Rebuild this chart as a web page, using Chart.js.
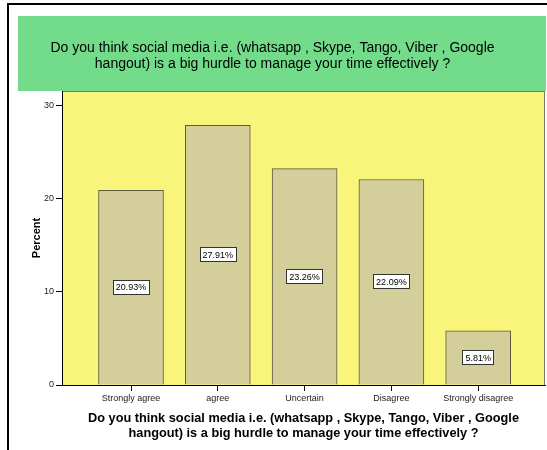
<!DOCTYPE html>
<html>
<head>
<meta charset="utf-8">
<script src="https://cdn.jsdelivr.net/npm/chart.js@4/dist/chart.umd.min.js"></script>
<style>
html,body{margin:0;padding:0;background:#fff;}
#wrap{width:547px;height:450px;}
</style>
</head>
<body>
<div id="wrap"><canvas id="c" width="547" height="450"></canvas></div>
<script>
const categories = ["Strongly agree", "agree", "Uncertain", "Disagree", "Strongly disagree"];
const percents = [20.93, 27.91, 23.26, 22.09, 5.81];
const yTicks = [0, 10, 20, 30];
const titleLines = ["Do you think social media i.e. (whatsapp , Skype, Tango, Viber , Google", "hangout) is a big hurdle to manage your time effectively ?"];

const FONT = "Arial, 'Liberation Sans', sans-serif";

const decor = {
  id: 'decor',
  beforeDraw(chart) {
    const ctx = chart.ctx;
    const a = chart.chartArea;
    ctx.save();
    ctx.fillStyle = '#fff';
    ctx.fillRect(0, 0, chart.width, chart.height);
    // outer frame
    ctx.fillStyle = '#000';
    ctx.fillRect(7, 3, chart.width - 7, 2);
    ctx.fillRect(7, 3, 2, chart.height - 3);
    // green title box
    ctx.fillStyle = '#73DC8A';
    ctx.fillRect(18, 16, 528, a.top - 16);
    // plot background
    ctx.fillStyle = '#F9F57A';
    ctx.fillRect(a.left, a.top, a.right - a.left, a.bottom - a.top);
    ctx.strokeStyle = '#7a7a6a';
    ctx.lineWidth = 1;
    ctx.strokeRect(a.left + 0.5, a.top + 0.5, a.right - a.left - 1, a.bottom - a.top);
    ctx.restore();
  },
  afterDatasetsDraw(chart) {
    const ctx = chart.ctx;
    const meta = chart.getDatasetMeta(0);
    ctx.save();
    ctx.font = '9px ' + FONT;
    ctx.textAlign = 'center';
    ctx.textBaseline = 'middle';
    meta.data.forEach((bar, i) => {
      const txt = percents[i].toFixed(2) + '%';
      const cx = bar.x;
      const cy = (bar.y + bar.base) / 2;
      const w = ctx.measureText(txt).width + 6;
      const h = 15;
      ctx.fillStyle = '#fff';
      ctx.fillRect(Math.round(cx - w / 2), Math.round(cy - h / 2), Math.round(w), h);
      ctx.strokeStyle = '#333';
      ctx.lineWidth = 1;
      ctx.strokeRect(Math.round(cx - w / 2) + 0.5, Math.round(cy - h / 2) + 0.5, Math.round(w) - 1, h - 1);
      ctx.fillStyle = '#000';
      ctx.fillText(txt, cx, cy + 0.5);
    });
    ctx.restore();
  }
};

new Chart(document.getElementById('c'), {
  type: 'bar',
  data: {
    datasets: [{
      data: percents.map((v, i) => ({x: i, y: v})),
      backgroundColor: '#D4CE9A',
      borderColor: '#5c5a3c',
      borderWidth: 1,
      barThickness: 65
    }]
  },
  options: {
    responsive: false,
    animation: false,
    devicePixelRatio: 1,
    layout: {padding: {left: 0, right: 2, top: 0, bottom: 0}},
    plugins: {
      legend: {display: false},
      tooltip: {enabled: false},
      title: {
        display: true,
        text: titleLines,
        color: '#000',
        font: {family: FONT, size: 14, weight: 'normal', lineHeight: 1.15},
        padding: {top: 40, bottom: 18.8}
      }
    },
    scales: {
      x: {
        type: 'linear',
        min: -0.795,
        max: 4.77,
        offset: false,
        afterBuildTicks(scale) {
          scale.ticks = categories.map((c, i) => ({value: i}));
        },
        afterFit(scale) { scale.height = 65; },
        ticks: {
          includeBounds: false,
          autoSkip: false,
          maxRotation: 0,
          padding: 2,
          color: '#222',
          font: {family: FONT, size: 9},
          callback: (v) => categories[v] !== undefined ? categories[v] : ''
        },
        grid: {display: true, offset: false, drawOnChartArea: false, drawTicks: true, tickLength: 6, color: '#000'},
        border: {display: true, color: '#000'},
        title: {
          display: true,
          text: titleLines,
          color: '#000',
          font: {family: FONT, size: 12.75, weight: 'bold', lineHeight: 1.1},
          padding: {top: 0, bottom: 10}
        }
      },
      y: {
        min: 0,
        max: 31.6,
        afterBuildTicks(scale) {
          scale.ticks = yTicks.map(v => ({value: v}));
        },
        afterFit(scale) { scale.width = 62; },
        ticks: {
          includeBounds: false,
          padding: 2,
          color: '#222',
          font: {family: FONT, size: 9}
        },
        grid: {display: true, drawOnChartArea: false, drawTicks: true, tickLength: 6, color: '#000'},
        border: {display: true, color: '#000'},
        title: {
          display: true,
          text: 'Percent',
          color: '#000',
          font: {family: FONT, size: 11, weight: 'bold', lineHeight: 1.2},
          padding: {top: 30, bottom: 0}
        }
      }
    }
  },
  plugins: [decor]
});
</script>
</body>
</html>
